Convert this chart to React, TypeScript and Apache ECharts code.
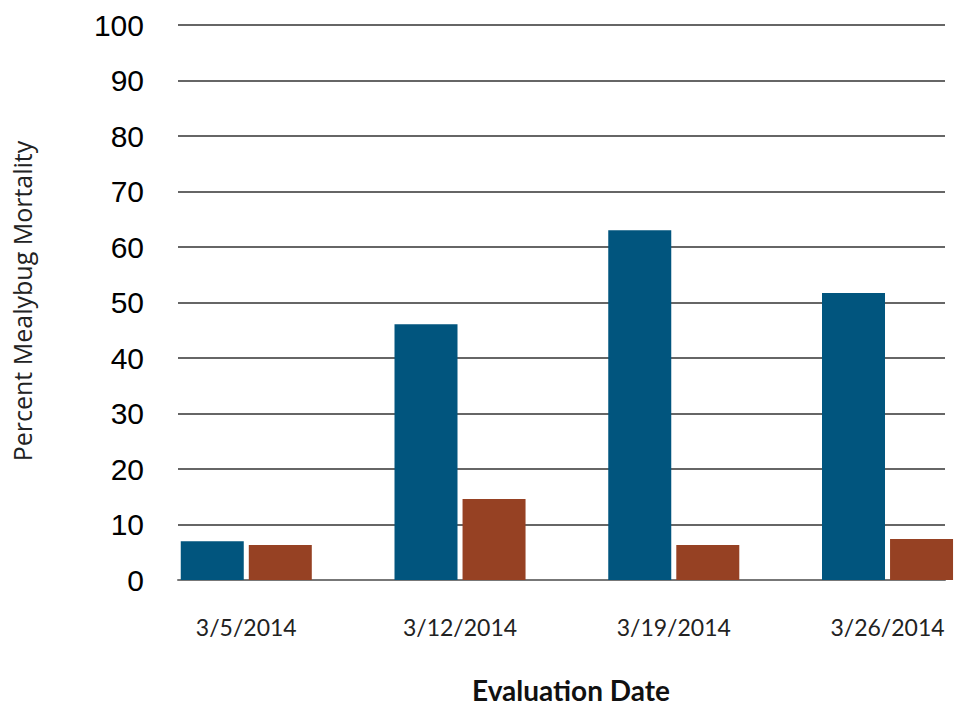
import React, { useEffect, useRef } from "react";
import * as echarts from "echarts";

const categories = ["3/5/2014", "3/12/2014", "3/19/2014", "3/26/2014"];
const blueValues = [7.0, 46.1, 63.0, 51.7];
const redValues = [6.3, 14.6, 6.3, 7.4];
const yTicks = { min: 0, max: 100, interval: 10 };

export default function App() {
  const ref = useRef<HTMLDivElement>(null);
  useEffect(() => {
    document.body.style.margin = "0";
    if (!ref.current) return;
    const chart = echarts.init(ref.current, null, { renderer: "svg" });
    chart.setOption({
      animation: false,
      backgroundColor: "#ffffff",
      grid: [
        { left: 139.4, width: 855, top: 25, height: 555 },
        { left: 178, width: 767, top: 25, height: 555 },
      ],
      xAxis: [
        {
          type: "category",
          gridIndex: 0,
          data: categories,
          axisLine: { show: false },
          axisTick: { show: false },
          axisLabel: {
            fontFamily: "Lato",
            fontSize: 23,
            color: "#222",
            margin: 35,
          },
        },
        {
          type: "value",
          gridIndex: 1,
          min: 0,
          max: 1,
          axisLine: { show: true, lineStyle: { color: "#777", width: 2 } },
          axisTick: { show: false },
          axisLabel: { show: false },
          splitLine: { show: false },
        },
      ],
      yAxis: [
        {
          type: "value",
          gridIndex: 0,
          min: yTicks.min,
          max: yTicks.max,
          interval: yTicks.interval,
          show: false,
          splitLine: { show: false },
        },
        {
          type: "value",
          gridIndex: 1,
          min: yTicks.min,
          max: yTicks.max,
          interval: yTicks.interval,
          axisLine: { show: false },
          axisTick: { show: false },
          axisLabel: {
            fontFamily: "Liberation Sans",
            fontSize: 30,
            color: "#000",
            margin: 34,
          },
          splitLine: { show: true, lineStyle: { color: "#333", width: 1.5 } },
        },
      ],
      series: [
        {
          type: "bar",
          xAxisIndex: 0,
          yAxisIndex: 0,
          data: blueValues,
          barWidth: 63,
          barGap: "8%",
          itemStyle: { color: "#01557E" },
        },
        {
          type: "bar",
          xAxisIndex: 0,
          yAxisIndex: 0,
          data: redValues,
          barWidth: 63,
          barGap: "8%",
          itemStyle: { color: "#964123" },
        },
      ],
      graphic: [
        {
          type: "text",
          x: 22,
          y: 301,
          rotation: Math.PI / 2,
          style: {
            text: "Percent Mealybug Mortality",
            fontFamily: "Open Sans",
            fontSize: 25,
            fill: "#222",
            textAlign: "center",
            textVerticalAlign: "middle",
          },
        },
        {
          type: "text",
          x: 571,
          y: 690,
          style: {
            text: "Evaluation Date",
            fontFamily: "Lato",
            fontWeight: "bold",
            fontSize: 28,
            fill: "#111",
            textAlign: "center",
            textVerticalAlign: "middle",
          },
        },
      ],
    });
    return () => chart.dispose();
  }, []);
  return (
    <div style={{ width: 959, height: 707, overflow: "hidden" }}>
      <div ref={ref} style={{ width: 1000, height: 707 }} />
    </div>
  );
}
